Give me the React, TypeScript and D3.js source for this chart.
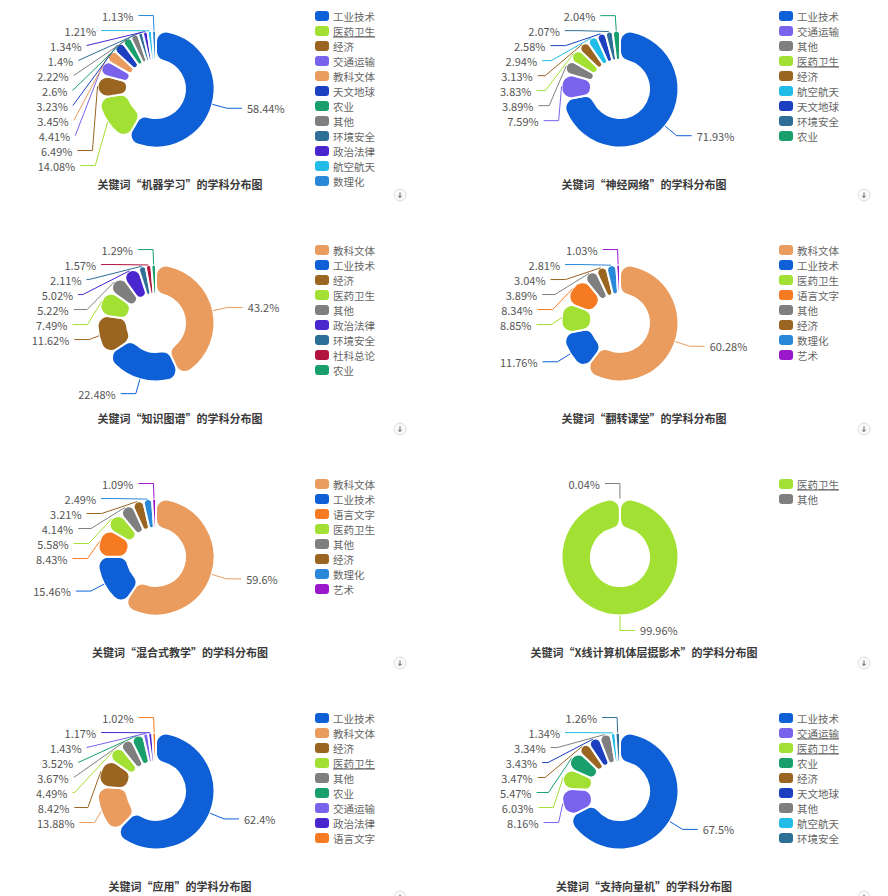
import React from 'react';
import * as d3 from 'd3';

// ---------- data ----------
const SUBJECT_COLORS: Record<string, string> = {
  工业技术: '#0f60d6',
  医药卫生: '#a3e034',
  经济: '#9a6421',
  交通运输: '#7a63ec',
  教科文体: '#e99c5e',
  天文地球: '#1d40c0',
  农业: '#189f6c',
  其他: '#7f7f7f',
  环境安全: '#2e6f98',
  政治法律: '#4a26cf',
  航空航天: '#22bce8',
  数理化: '#2a88d8',
  语言文字: '#f67a22',
  社科总论: '#b2133f',
  艺术: '#9a17cc',
};

const titles = ['机器学习', '神经网络', '知识图谱', '翻转课堂', '混合式教学', 'X线计算机体层摄影术', '应用', '支持向量机'];

const categories1 = ['工业技术', '医药卫生', '经济', '交通运输', '教科文体', '天文地球', '农业', '其他', '环境安全', '政治法律', '航空航天', '数理化'];
const values1 = [58.44, 14.08, 6.49, 4.41, 3.45, 3.23, 2.6, 2.22, 1.4, 1.34, 1.21, 1.13];

const categories2 = ['工业技术', '交通运输', '其他', '医药卫生', '经济', '航空航天', '天文地球', '环境安全', '农业'];
const values2 = [71.93, 7.59, 3.89, 3.83, 3.13, 2.94, 2.58, 2.07, 2.04];

const categories3 = ['教科文体', '工业技术', '经济', '医药卫生', '其他', '政治法律', '环境安全', '社科总论', '农业'];
const values3 = [43.2, 22.48, 11.62, 7.49, 5.22, 5.02, 2.11, 1.57, 1.29];

const categories4 = ['教科文体', '工业技术', '医药卫生', '语言文字', '其他', '经济', '数理化', '艺术'];
const values4 = [60.28, 11.76, 8.85, 8.34, 3.89, 3.04, 2.81, 1.03];

const categories5 = ['教科文体', '工业技术', '语言文字', '医药卫生', '其他', '经济', '数理化', '艺术'];
const values5 = [59.6, 15.46, 8.43, 5.58, 4.14, 3.21, 2.49, 1.09];

const categories6 = ['医药卫生', '其他'];
const values6 = [99.96, 0.04];

const categories7 = ['工业技术', '教科文体', '经济', '医药卫生', '其他', '农业', '交通运输', '政治法律', '语言文字'];
const values7 = [62.4, 13.88, 8.42, 4.49, 3.67, 3.52, 1.43, 1.17, 1.02];

const categories8 = ['工业技术', '交通运输', '医药卫生', '农业', '经济', '天文地球', '其他', '航空航天', '环境安全'];
const values8 = [67.5, 8.16, 6.03, 5.47, 3.47, 3.43, 3.34, 1.34, 1.26];

const panelCategories = [categories1, categories2, categories3, categories4, categories5, categories6, categories7, categories8];
const panelValues = [values1, values2, values3, values4, values5, values6, values7, values8];
const underlinedLegend = [['医药卫生'], ['医药卫生'], [], [], [], ['医药卫生'], ['医药卫生'], ['交通运输', '医药卫生']];

// ---------- layout constants ----------
const W = 888, H = 896;
const COL_W = 464, ROW_H = 234;
const CX = 156, CY = 89, R = 58.5, R0 = 29;
const LEN1 = 15, LEN2 = 15, DIST = 5, LABEL_H = 15;
const FONT = '"Noto Sans CJK SC", "Noto Sans", sans-serif';

type Item = {
  dir: number; nx: number; ny: number;
  pts: number[][]; lx: number; ly: number;
  text: string; color: string;
};

function projectPointToLine(x1: number, y1: number, x2: number, y2: number, x: number, y: number, out: number[]) {
  const dx = x - x1, dy = y - y1;
  let dx1 = x2 - x1, dy1 = y2 - y1;
  const lineLen = Math.sqrt(dx1 * dx1 + dy1 * dy1);
  dx1 /= lineLen; dy1 /= lineLen;
  const t = dx * dx1 + dy * dy1;
  const ox = (out[0] = x1 + t * dx1);
  const oy = (out[1] = y1 + t * dy1);
  return Math.sqrt((ox - x) * (ox - x) + (oy - y) * (oy - y));
}

function limitTurnAngle(pts: number[][], minDeg: number) {
  const a = (minDeg / 180) * Math.PI;
  const [p0, p1, p2] = pts;
  let ax = p0[0] - p1[0], ay = p0[1] - p1[1];
  let bx = p2[0] - p1[0], by = p2[1] - p1[1];
  const l1 = Math.hypot(ax, ay), l2 = Math.hypot(bx, by);
  if (l1 < 1e-3 || l2 < 1e-3) return;
  ax /= l1; ay /= l1; bx /= l2; by /= l2;
  const c = ax * bx + ay * by;
  if (Math.cos(a) < c) {
    const out = [0, 0];
    const d = projectPointToLine(p1[0], p1[1], p2[0], p2[1], p0[0], p0[1], out);
    let px = out[0] + (bx * d) / Math.tan(Math.PI - a);
    let py = out[1] + (by * d) / Math.tan(Math.PI - a);
    const t = p2[0] !== p1[0] ? (px - p1[0]) / (p2[0] - p1[0]) : (py - p1[1]) / (p2[1] - p1[1]);
    if (isNaN(t)) return;
    if (t < 0) { px = p1[0]; py = p1[1]; } else if (t > 1) { px = p2[0]; py = p2[1]; }
    p1[0] = px; p1[1] = py;
  }
}

function limitSurfaceAngle(pts: number[][], nx: number, ny: number, maxDeg: number) {
  const a = (maxDeg / 180) * Math.PI;
  const [p0, p1, p2] = pts;
  let ax = p1[0] - p0[0], ay = p1[1] - p0[1];
  let bx = p2[0] - p1[0], by = p2[1] - p1[1];
  const l1 = Math.hypot(ax, ay), l2 = Math.hypot(bx, by);
  if (l1 < 1e-3 || l2 < 1e-3) return;
  ax /= l1; ay /= l1; bx /= l2; by /= l2;
  const c = ax * nx + ay * ny;
  if (c < Math.cos(a)) {
    const out = [0, 0];
    const d = projectPointToLine(p1[0], p1[1], p2[0], p2[1], p0[0], p0[1], out);
    const angle2 = Math.acos(Math.max(-1, Math.min(1, bx * nx + by * ny)));
    const newAngle = Math.PI / 2 + angle2 - a;
    let px = out[0], py = out[1];
    if (newAngle >= Math.PI / 2) {
      px = p2[0]; py = p2[1];
    } else {
      px += (bx * d) / Math.tan(Math.PI / 2 - newAngle);
      py += (by * d) / Math.tan(Math.PI / 2 - newAngle);
      const t = p2[0] !== p1[0] ? (px - p1[0]) / (p2[0] - p1[0]) : (py - p1[1]) / (p2[1] - p1[1]);
      if (isNaN(t)) return;
      if (t < 0) { px = p1[0]; py = p1[1]; } else if (t > 1) { px = p2[0]; py = p2[1]; }
    }
    p1[0] = px; p1[1] = py;
  }
}

function adjustSide(list: Item[], dir: number, top: number, bottom: number) {
  if (list.length < 2) return;
  list.sort((a, b) => a.ly - b.ly);
  let lastPos = top;
  let adjusted = false;
  for (const it of list) {
    const ry = it.ly - LABEL_H / 2;
    const delta = ry - lastPos;
    if (delta < 0) { it.ly -= delta; adjusted = true; }
    lastPos = it.ly - LABEL_H / 2 + LABEL_H;
  }
  const last = list[list.length - 1];
  const maxGap = bottom - (last.ly + LABEL_H / 2);
  if (maxGap < 0) {
    const minGap = list[0].ly - LABEL_H / 2 - top;
    const mv = Math.max(0, Math.min(minGap, -maxGap));
    list.forEach((it) => (it.ly -= mv));
  }
  if (!adjusted) return;
  const rA = R + LEN1;
  const semis = [
    { list: [] as Item[], maxY: 0, rB: rA },
    { list: [] as Item[], maxY: 0, rB: rA },
  ];
  for (const it of list) {
    const semi = it.ly > CY ? semis[1] : semis[0];
    const dy = Math.abs(it.ly - CY);
    if (dy >= semi.maxY) {
      const dx = it.lx - CX - LEN2 * dir;
      semi.rB = Math.abs(dx) < rA ? Math.sqrt((dy * dy) / (1 - (dx * dx) / rA / rA)) : rA;
      semi.maxY = dy;
    }
    semi.list.push(it);
  }
  for (const semi of semis) {
    const rB2 = semi.rB * semi.rB;
    for (const it of semi.list) {
      const dy = Math.abs(it.ly - CY);
      const dx = Math.sqrt(Math.max(0, (1 - Math.abs((dy * dy) / rB2)) * rA * rA));
      it.lx = CX + (dx + LEN2) * dir;
    }
  }
}

function layoutLabels(arcs: d3.PieArcDatum<number>[], cats: string[]): Item[] {
  const items: Item[] = arcs.map((a, i) => {
    const mid = (a.startAngle + a.endAngle) / 2;
    const nx = Math.sin(mid), ny = -Math.cos(mid);
    const dir = nx < 0 ? -1 : 1;
    const x0 = CX + R * nx, y0 = CY + R * ny;
    const x1 = CX + (R + LEN1) * nx, y1 = CY + (R + LEN1) * ny;
    const x2 = x1 + dir * LEN2;
    return {
      dir, nx, ny,
      pts: [[x0, y0], [x1, y1], [x2, y1]],
      lx: x2 + dir * DIST, ly: y1,
      text: `${a.data}%`,
      color: SUBJECT_COLORS[cats[i]],
    };
  });
  adjustSide(items.filter((d) => d.dir < 0), -1, 0, ROW_H);
  adjustSide(items.filter((d) => d.dir > 0), 1, 0, ROW_H);
  for (const it of items) {
    const d = it.pts[1][0] - it.pts[2][0];
    it.pts[2][0] = it.lx - it.dir * DIST;
    it.pts[1][0] = it.pts[2][0] + d;
    it.pts[1][1] = it.pts[2][1] = it.ly;
    limitTurnAngle(it.pts, 90);
    limitSurfaceAngle(it.pts, it.nx, it.ny, 90);
  }
  return items;
}

const arcGen = d3.arc<d3.PieArcDatum<number>>().innerRadius(R0).outerRadius(R).cornerRadius(10);
const pieGen = d3.pie<number>().sort(null).value((d) => d);
const lineGen = d3.line();

function Panel({ idx }: { idx: number }) {
  const cats = panelCategories[idx];
  const vals = panelValues[idx];
  const arcs = pieGen(vals);
  const labels = layoutLabels(arcs, cats);
  const ox = (idx % 2) * COL_W;
  const oy = Math.floor(idx / 2) * ROW_H;
  const ul = underlinedLegend[idx];
  return (
    <g transform={`translate(${ox},${oy})`}>
      <g transform={`translate(${CX},${CY})`}>
        {arcs.map((a, i) => (
          <path key={i} d={arcGen(a) || ''} fill={SUBJECT_COLORS[cats[i]]} stroke="#fff" strokeWidth={2} strokeLinejoin="round" />
        ))}
      </g>
      {labels.map((l, i) => (
        <g key={i}>
          <path d={lineGen(l.pts as [number, number][]) || ''} fill="none" stroke={l.color} strokeWidth={1} />
          <text x={l.lx} y={l.ly} dominantBaseline="central" textAnchor={l.dir < 0 ? 'end' : 'start'}
            fontSize={11} fill="#555" fontFamily={FONT}>{l.text}</text>
        </g>
      ))}
      {cats.map((c, i) => {
        const y = 16 + i * 15;
        return (
          <g key={c}>
            <rect x={315} y={y - 5} width={14} height={10} rx={3} fill={SUBJECT_COLORS[c]} />
            <text x={333} y={y} dominantBaseline="central" fontSize={10.5} fill="#666" fontFamily={FONT}
              style={{ textDecoration: ul.includes(c) ? 'underline' : 'none' }}>{c}</text>
          </g>
        );
      })}
      <text x={180} y={184} textAnchor="middle" dominantBaseline="central" fontSize={11} fontWeight="bold"
        fill="#3a3a3a" fontFamily={FONT}>{`关键词“${titles[idx]}”的学科分布图`}</text>
      <g transform="translate(400,195)">
        <circle r={6} fill="#fafafa" stroke="#d6d6d6" strokeWidth={0.8} />
        <path d="M0,-2.6V2.4M-1.8,0.8L0,2.6L1.8,0.8" fill="none" stroke="#444" strokeWidth={0.8} />
      </g>
    </g>
  );
}

export default function App() {
  return (
    <svg width={W} height={H} viewBox={`0 0 ${W} ${H}`} style={{ position: 'absolute', left: 0, top: 0, background: '#fff' }}>
      <rect width={W} height={H} fill="#fff" />
      {titles.map((_, i) => (
        <Panel key={i} idx={i} />
      ))}
    </svg>
  );
}
